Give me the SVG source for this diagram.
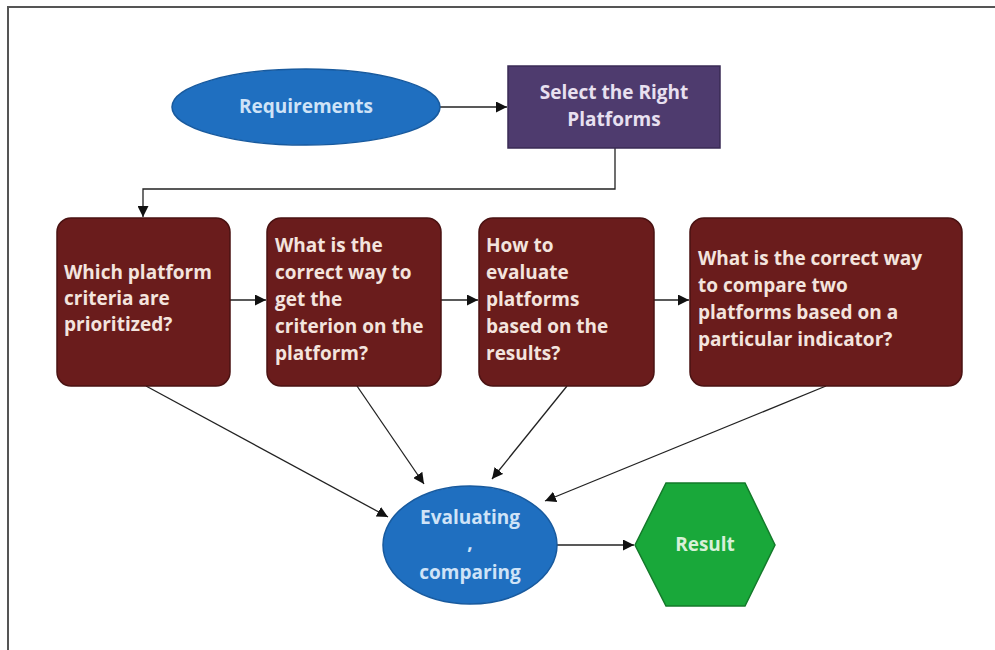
<svg xmlns="http://www.w3.org/2000/svg" width="995" height="650" viewBox="0 0 995 650">
<defs>
<style>
.t{font-family:"Open Sans","Liberation Sans",Arial,sans-serif;font-weight:bold;font-size:19px}
.bx{fill:#6a1c1c;stroke:#4a1212;stroke-width:1.5}
.bt{fill:#f3e4de}
.blue{fill:#1f6fc0;stroke:#185a9e;stroke-width:1.5}
.bluet{fill:#cfe3f7}
.ln{stroke:#222;stroke-width:1.3;fill:none}
</style>
<marker id="ah" viewBox="0 0 10 10" refX="10" refY="5" markerWidth="11" markerHeight="11" markerUnits="userSpaceOnUse" orient="auto">
<path d="M0,0 L10,5 L0,10 z" fill="#111"/>
</marker>
</defs>
<rect x="0" y="0" width="995" height="650" fill="#ffffff"/>
<path d="M8,650 V7 H995" fill="none" stroke="#555" stroke-width="2"/>

<g id="connectors">
<line class="ln" x1="440" y1="107" x2="507" y2="107" marker-end="url(#ah)"/>
<polyline class="ln" points="615,148 615,189 143,189 143,217" marker-end="url(#ah)"/>
<line class="ln" x1="230" y1="300" x2="266" y2="300" marker-end="url(#ah)"/>
<line class="ln" x1="441" y1="300" x2="478" y2="300" marker-end="url(#ah)"/>
<line class="ln" x1="654" y1="300" x2="689" y2="300" marker-end="url(#ah)"/>
<line class="ln" x1="146" y1="386" x2="388" y2="517" marker-end="url(#ah)"/>
<line class="ln" x1="357" y1="386" x2="424" y2="484" marker-end="url(#ah)"/>
<line class="ln" x1="567" y1="386" x2="492" y2="479" marker-end="url(#ah)"/>
<line class="ln" x1="826" y1="386" x2="545" y2="501" marker-end="url(#ah)"/>
<line class="ln" x1="556" y1="545" x2="634" y2="545" marker-end="url(#ah)"/>
</g>

<g id="requirements">
<ellipse class="blue" cx="306" cy="107" rx="134" ry="38"/>
<text class="t bluet" x="306" y="113" text-anchor="middle">Requirements</text>
</g>

<g id="select">
<rect x="508" y="66" width="212" height="82" fill="#4e3b6e" stroke="#3a2b55" stroke-width="1.5"/>
<text class="t" fill="#e8e0f0" text-anchor="middle"><tspan x="614" y="99">Select the Right</tspan><tspan x="614" y="126">Platforms</tspan></text>
</g>

<g id="q1">
<rect class="bx" x="57" y="218" width="173" height="168" rx="14"/>
<text class="t bt"><tspan x="64" y="279">Which platform</tspan><tspan x="64" y="305">criteria are</tspan><tspan x="64" y="331">prioritized?</tspan></text>
</g>

<g id="q2">
<rect class="bx" x="267" y="218" width="174" height="168" rx="14"/>
<text class="t bt"><tspan x="275" y="252">What is the</tspan><tspan x="275" y="279">correct way to</tspan><tspan x="275" y="306">get the</tspan><tspan x="275" y="333">criterion on the</tspan><tspan x="275" y="360">platform?</tspan></text>
</g>

<g id="q3">
<rect class="bx" x="479" y="218" width="175" height="168" rx="14"/>
<text class="t bt"><tspan x="486" y="252">How to</tspan><tspan x="486" y="279">evaluate</tspan><tspan x="486" y="306">platforms</tspan><tspan x="486" y="333">based on the</tspan><tspan x="486" y="360">results?</tspan></text>
</g>

<g id="q4">
<rect class="bx" x="690" y="218" width="272" height="168" rx="14"/>
<text class="t bt"><tspan x="698" y="265">What is the correct way</tspan><tspan x="698" y="292">to compare two</tspan><tspan x="698" y="319">platforms based on a</tspan><tspan x="698" y="346">particular indicator?</tspan></text>
</g>

<g id="evaluating">
<ellipse class="blue" cx="470" cy="545" rx="87" ry="59"/>
<text class="t bluet" text-anchor="middle"><tspan x="470" y="524">Evaluating</tspan><tspan x="470" y="549">,</tspan><tspan x="470" y="579">comparing</tspan></text>
</g>

<g id="result">
<polygon points="635,545 666,483 745,483 775,545 745,606 666,606" fill="#19a83a" stroke="#137a2a" stroke-width="1.5"/>
<text class="t" fill="#d8f0d8" x="705" y="551" text-anchor="middle">Result</text>
</g>
</svg>
